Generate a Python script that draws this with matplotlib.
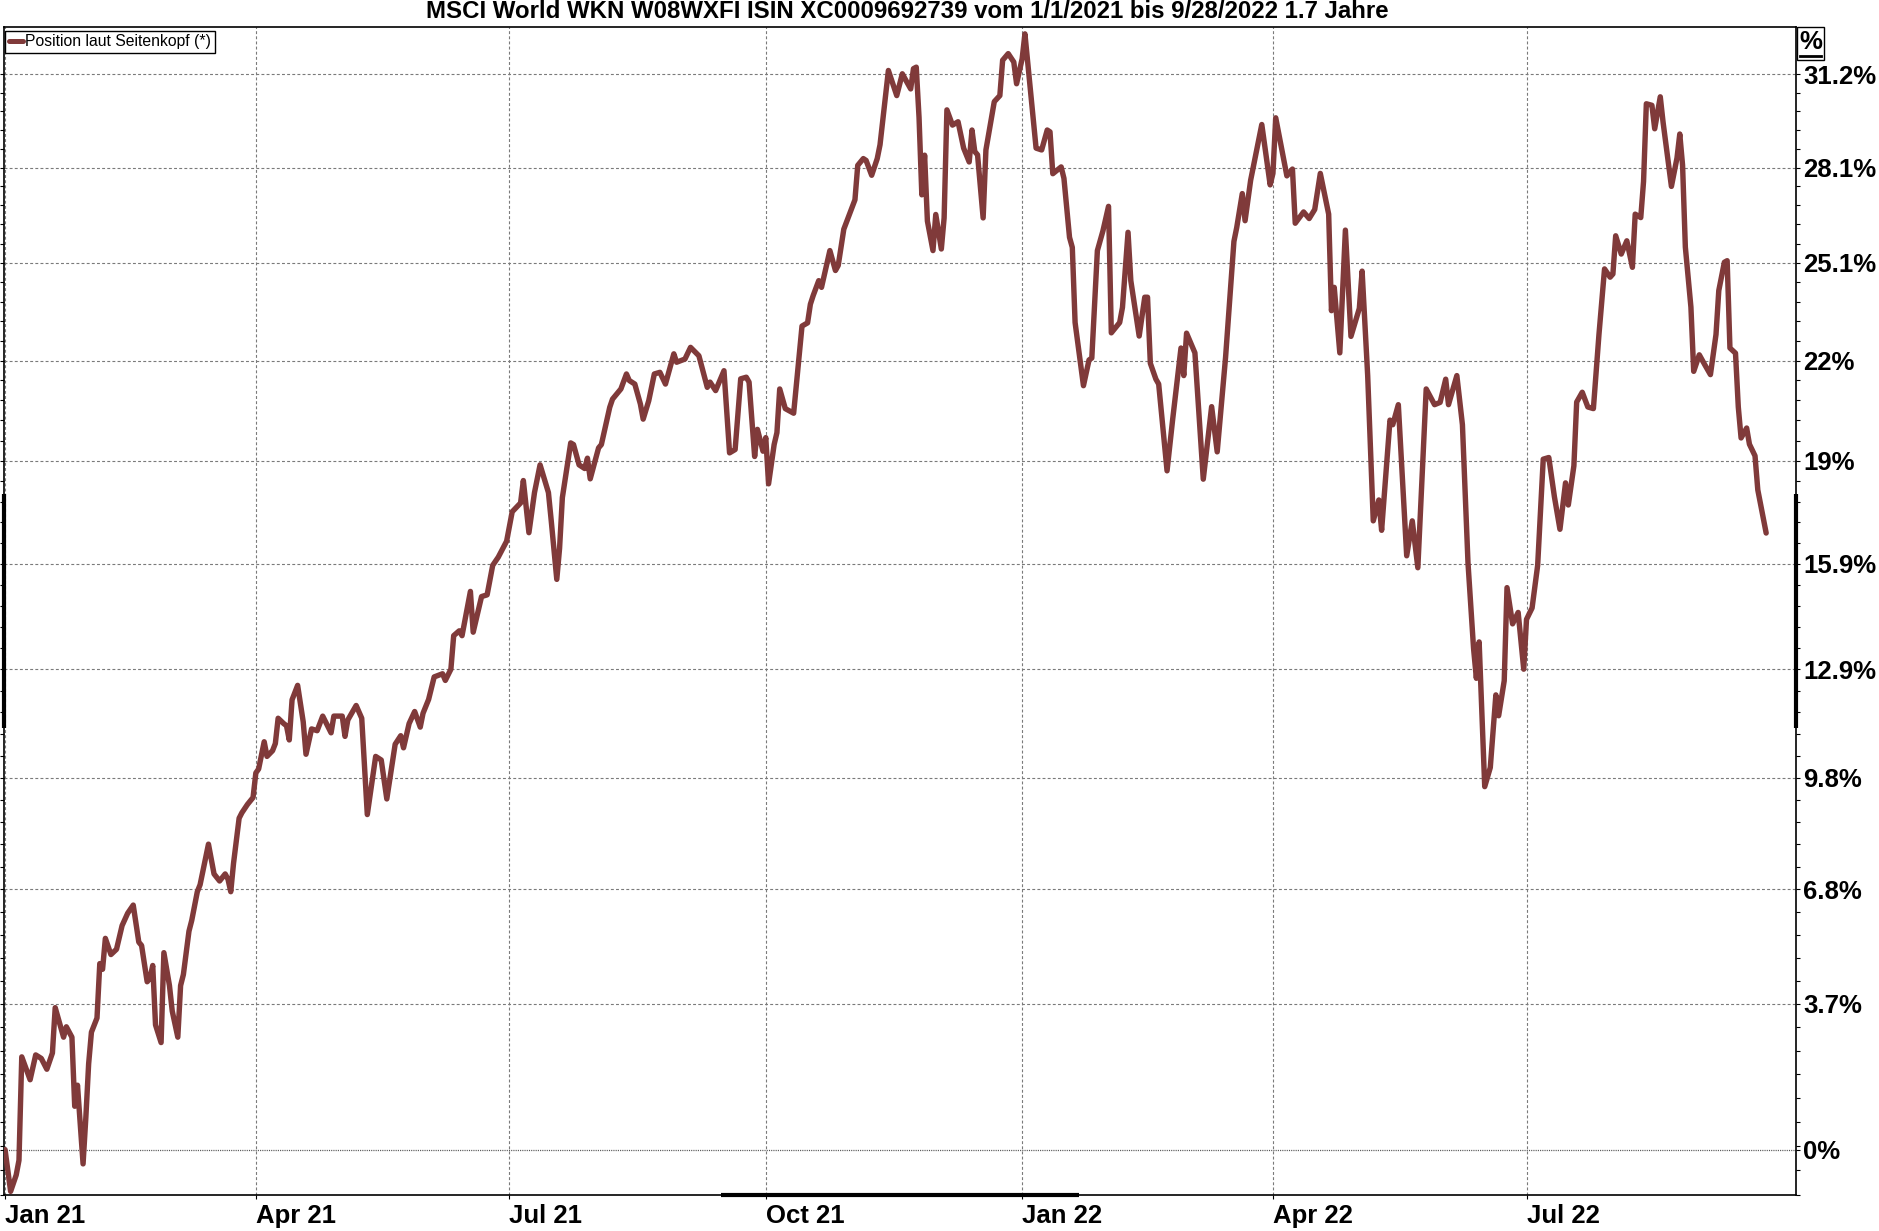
import numpy as np
import pandas as pd
import matplotlib
matplotlib.use("Agg")
import matplotlib.pyplot as plt
from matplotlib.ticker import FixedLocator, NullFormatter
from matplotlib.lines import Line2D
from matplotlib.patches import Rectangle
from matplotlib import font_manager

# ---------------- data ----------------
title = "MSCI World WKN W08WXFI ISIN XC0009692739 vom 1/1/2021 bis 9/28/2022 1.7 Jahre"
series_label = "Position laut Seitenkopf (*)"

dates = [
    "2021-01-01", "2021-01-03", "2021-01-05", "2021-01-06", "2021-01-07", "2021-01-10",
    "2021-01-12", "2021-01-14", "2021-01-16", "2021-01-18", "2021-01-19", "2021-01-22",
    "2021-01-23", "2021-01-25", "2021-01-26", "2021-01-27", "2021-01-29", "2021-01-30",
    "2021-01-31", "2021-02-01", "2021-02-03", "2021-02-04", "2021-02-05", "2021-02-06",
    "2021-02-08", "2021-02-10", "2021-02-12", "2021-02-14", "2021-02-16", "2021-02-18",
    "2021-02-19", "2021-02-21", "2021-02-22", "2021-02-23", "2021-02-24", "2021-02-26",
    "2021-02-27", "2021-03-01", "2021-03-02", "2021-03-04", "2021-03-05", "2021-03-06",
    "2021-03-08", "2021-03-09", "2021-03-11", "2021-03-12", "2021-03-15", "2021-03-17",
    "2021-03-19", "2021-03-21", "2021-03-22", "2021-03-23", "2021-03-24", "2021-03-26",
    "2021-03-27", "2021-03-29", "2021-03-31", "2021-04-01", "2021-04-02", "2021-04-04",
    "2021-04-05", "2021-04-07", "2021-04-08", "2021-04-09", "2021-04-11", "2021-04-12",
    "2021-04-13", "2021-04-14", "2021-04-16", "2021-04-18", "2021-04-19", "2021-04-21",
    "2021-04-23", "2021-04-25", "2021-04-28", "2021-04-29", "2021-05-02", "2021-05-03",
    "2021-05-04", "2021-05-07", "2021-05-09", "2021-05-11", "2021-05-14", "2021-05-16",
    "2021-05-18", "2021-05-21", "2021-05-23", "2021-05-24", "2021-05-26", "2021-05-28",
    "2021-05-30", "2021-05-31", "2021-06-02", "2021-06-04", "2021-06-07", "2021-06-08",
    "2021-06-10", "2021-06-11", "2021-06-13", "2021-06-14", "2021-06-17", "2021-06-18",
    "2021-06-21", "2021-06-23", "2021-06-25", "2021-06-27", "2021-06-29", "2021-06-30",
    "2021-07-02", "2021-07-05", "2021-07-06", "2021-07-08", "2021-07-10", "2021-07-12",
    "2021-07-15", "2021-07-16", "2021-07-18", "2021-07-19", "2021-07-20", "2021-07-23",
    "2021-07-24", "2021-07-26", "2021-07-28", "2021-07-29", "2021-07-30", "2021-08-02",
    "2021-08-03", "2021-08-06", "2021-08-07", "2021-08-10", "2021-08-12", "2021-08-13",
    "2021-08-15", "2021-08-17", "2021-08-18", "2021-08-20", "2021-08-22", "2021-08-24",
    "2021-08-26", "2021-08-29", "2021-08-30", "2021-09-02", "2021-09-04", "2021-09-07",
    "2021-09-10", "2021-09-11", "2021-09-13", "2021-09-16", "2021-09-18", "2021-09-20",
    "2021-09-22", "2021-09-24", "2021-09-25", "2021-09-27", "2021-09-28", "2021-09-30",
    "2021-10-01", "2021-10-02", "2021-10-04", "2021-10-05", "2021-10-06", "2021-10-08",
    "2021-10-11", "2021-10-13", "2021-10-14", "2021-10-16", "2021-10-17", "2021-10-18",
    "2021-10-20", "2021-10-21", "2021-10-24", "2021-10-26", "2021-10-27", "2021-10-29",
    "2021-10-31", "2021-11-02", "2021-11-03", "2021-11-05", "2021-11-06", "2021-11-08",
    "2021-11-10", "2021-11-11", "2021-11-14", "2021-11-17", "2021-11-19", "2021-11-20",
    "2021-11-22", "2021-11-23", "2021-11-24", "2021-11-25", "2021-11-26", "2021-11-27",
    "2021-11-28", "2021-11-30", "2021-12-01", "2021-12-03", "2021-12-04", "2021-12-05",
    "2021-12-07", "2021-12-09", "2021-12-11", "2021-12-13", "2021-12-14", "2021-12-15",
    "2021-12-16", "2021-12-18", "2021-12-19", "2021-12-22", "2021-12-24", "2021-12-25",
    "2021-12-27", "2021-12-29", "2021-12-30", "2022-01-01", "2022-01-02", "2022-01-04",
    "2022-01-06", "2022-01-08", "2022-01-10", "2022-01-11", "2022-01-12", "2022-01-15",
    "2022-01-16", "2022-01-18", "2022-01-19", "2022-01-20", "2022-01-23", "2022-01-25",
    "2022-01-26", "2022-01-28", "2022-01-30", "2022-02-01", "2022-02-02", "2022-02-05",
    "2022-02-06", "2022-02-08", "2022-02-09", "2022-02-12", "2022-02-14", "2022-02-15",
    "2022-02-16", "2022-02-18", "2022-02-19", "2022-02-22", "2022-02-24", "2022-02-27",
    "2022-02-28", "2022-03-01", "2022-03-04", "2022-03-07", "2022-03-10", "2022-03-12",
    "2022-03-15", "2022-03-18", "2022-03-19", "2022-03-21", "2022-03-22", "2022-03-24",
    "2022-03-28", "2022-03-31", "2022-04-01", "2022-04-02", "2022-04-06", "2022-04-08",
    "2022-04-09", "2022-04-12", "2022-04-14", "2022-04-16", "2022-04-18", "2022-04-19",
    "2022-04-21", "2022-04-22", "2022-04-23", "2022-04-25", "2022-04-27", "2022-04-29",
    "2022-05-02", "2022-05-03", "2022-05-05", "2022-05-07", "2022-05-09", "2022-05-10",
    "2022-05-13", "2022-05-14", "2022-05-16", "2022-05-19", "2022-05-21", "2022-05-23",
    "2022-05-26", "2022-05-29", "2022-05-31", "2022-06-02", "2022-06-03", "2022-06-06",
    "2022-06-08", "2022-06-10", "2022-06-12", "2022-06-13", "2022-06-14", "2022-06-16",
    "2022-06-18", "2022-06-20", "2022-06-21", "2022-06-23", "2022-06-24", "2022-06-26",
    "2022-06-28", "2022-06-30", "2022-07-01", "2022-07-03", "2022-07-05", "2022-07-07",
    "2022-07-09", "2022-07-11", "2022-07-13", "2022-07-15", "2022-07-16", "2022-07-18",
    "2022-07-19", "2022-07-21", "2022-07-23", "2022-07-25", "2022-07-27", "2022-07-29",
    "2022-07-31", "2022-08-01", "2022-08-02", "2022-08-04", "2022-08-06", "2022-08-08",
    "2022-08-09", "2022-08-11", "2022-08-12", "2022-08-13", "2022-08-15", "2022-08-16",
    "2022-08-18", "2022-08-19", "2022-08-21", "2022-08-22", "2022-08-24", "2022-08-25",
    "2022-08-26", "2022-08-27", "2022-08-29", "2022-08-30", "2022-09-01", "2022-09-03",
    "2022-09-05", "2022-09-07", "2022-09-08", "2022-09-10", "2022-09-11", "2022-09-12",
    "2022-09-14", "2022-09-15", "2022-09-16", "2022-09-18", "2022-09-19", "2022-09-21",
    "2022-09-22", "2022-09-25",
]

values = [
    0.00, -1.05, -0.64, -0.27, 2.37, 1.78,
    2.42, 2.33, 2.05, 2.47, 3.65, 2.88,
    3.15, 2.88, 1.10, 1.64, -0.36, 0.82,
    2.19, 3.01, 3.38, 4.81, 4.66, 5.48,
    5.05, 5.19, 5.82, 6.15, 6.37, 5.38,
    5.29, 4.33, 4.42, 4.76, 3.20, 2.74,
    5.10, 4.23, 3.56, 2.88, 4.23, 4.52,
    5.67, 5.96, 6.73, 6.92, 8.02, 7.21,
    7.02, 7.21, 7.07, 6.73, 7.50, 8.73,
    8.88, 9.11, 9.30, 9.98, 10.09, 10.85,
    10.44, 10.60, 10.80, 11.51, 11.36, 11.30,
    10.90, 12.03, 12.44, 11.41, 10.50, 11.21,
    11.16, 11.57, 11.10, 11.57, 11.57, 11.00,
    11.46, 11.87, 11.51, 8.83, 10.44, 10.34,
    9.26, 10.78, 11.02, 10.68, 11.36, 11.70,
    11.26, 11.65, 12.04, 12.68, 12.77, 12.58,
    12.90, 13.86, 14.00, 13.86, 15.14, 13.96,
    14.99, 15.04, 15.90, 16.14, 16.45, 16.61,
    17.48, 17.74, 18.41, 16.86, 18.05, 18.88,
    18.05, 17.22, 15.49, 16.40, 17.90, 19.54,
    19.49, 18.88, 18.77, 19.08, 18.46, 19.39,
    19.49, 20.62, 20.87, 21.18, 21.64, 21.44,
    21.33, 20.72, 20.26, 20.82, 21.64, 21.69,
    21.33, 22.26, 22.00, 22.10, 22.46, 22.20,
    21.23, 21.39, 21.13, 21.74, 19.24, 19.34,
    21.49, 21.54, 21.39, 19.13, 19.95, 19.29,
    19.70, 18.31, 19.49, 19.85, 21.18, 20.58,
    20.44, 22.23, 23.12, 23.22, 23.80, 24.07,
    24.54, 24.33, 25.49, 24.86, 25.02, 26.17,
    26.64, 27.11, 28.22, 28.44, 28.38, 27.90,
    28.44, 28.89, 31.33, 30.50, 31.22, 31.05,
    30.72, 31.39, 31.44, 29.78, 27.27, 28.55,
    26.43, 25.49, 26.64, 25.54, 26.53, 30.03,
    29.53, 29.64, 28.78, 28.33, 29.37, 28.67,
    28.56, 26.53, 28.72, 30.30, 30.50, 31.67,
    31.89, 31.61, 30.89, 31.72, 32.55, 30.67,
    28.78, 28.72, 29.37, 29.31, 27.95, 28.17,
    27.80, 25.91, 25.59, 23.23, 21.28, 22.07,
    22.13, 25.49, 26.12, 26.90, 22.91, 23.23,
    23.70, 26.07, 24.54, 22.81, 24.02, 24.02,
    21.97, 21.48, 21.33, 18.70, 20.24, 22.44,
    21.59, 22.90, 22.29, 18.45, 20.64, 19.27,
    22.15, 25.78, 26.22, 27.31, 26.44, 27.74,
    29.55, 27.59, 27.96, 29.77, 27.88, 28.10,
    26.36, 26.72, 26.51, 26.80, 27.96, 27.52,
    26.65, 23.60, 24.33, 22.29, 26.14, 22.80,
    23.67, 24.84, 21.59, 17.21, 17.83, 16.93,
    20.23, 20.09, 20.70, 16.18, 17.21, 15.83,
    21.18, 20.70, 20.77, 21.48, 20.70, 21.59,
    20.09, 15.97, 13.49, 12.64, 13.68, 9.60,
    10.13, 12.17, 11.58, 12.57, 15.25, 14.20,
    14.53, 12.90, 14.33, 14.66, 15.90, 19.05,
    19.10, 17.93, 16.96, 18.34, 17.68, 18.85,
    20.78, 21.08, 20.63, 20.58, 22.86, 24.91,
    24.65, 24.75, 25.96, 25.38, 25.80, 24.96,
    26.65, 26.54, 27.70, 30.23, 30.18, 29.41,
    30.46, 29.63, 28.23, 27.54, 28.46, 29.24,
    28.23, 25.60, 23.71, 21.72, 22.23, 21.92,
    21.62, 22.86, 24.23, 25.12, 25.17, 22.44,
    22.28, 20.63, 19.69, 19.99, 19.50, 19.15,
    18.13, 16.85,
]

ytick_values = [0.0, 3.75, 6.8, 9.85, 12.9, 15.95, 19.0, 22.05, 25.1, 28.15, 31.2]
ytick_labels = ["0%", "3.7%", "6.8%", "9.8%", "12.9%", "15.9%", "19%", "22%", "25.1%", "28.1%", "31.2%"]
xtick_dates = ["2021-01-01", "2021-04-01", "2021-07-01", "2021-10-01",
               "2022-01-01", "2022-04-01", "2022-07-01"]
xtick_labels = ["Jan 21", "Apr 21", "Jul 21", "Oct 21", "Jan 22", "Apr 22", "Jul 22"]

# ---------------- style ----------------
LINE_COLOR = "#803a3a"
GRID_COLOR = "#7a7a7a"
FONT = "Liberation Sans"
plt.rcParams["font.family"] = [FONT, "DejaVu Sans"]
plt.rcParams["lines.scale_dashes"] = False

installed = {f.name for f in font_manager.fontManager.ttflist}
if "Liberation Sans Narrow" in installed:
    legend_prop = {"family": "Liberation Sans Narrow", "size": 13.4}
else:
    legend_prop = {"family": FONT, "size": 11.3}

W, H = 1879, 1231
fig = plt.figure(figsize=(W / 100, H / 100), dpi=100)
fig.patch.set_facecolor("white")

ax_left, ax_right, ax_top, ax_bottom = 4, 1796, 27, 1195
ax = fig.add_axes([ax_left / W, (H - ax_bottom) / H,
                   (ax_right - ax_left) / W, (ax_bottom - ax_top) / H])

fwd = lambda v: np.log1p(np.asarray(v, dtype=float) / 100.0)
inv = lambda y: np.expm1(np.asarray(y, dtype=float)) * 100.0
ax.set_yscale("function", functions=(fwd, inv))

x = pd.to_datetime(dates)
ax.plot(x, values, color=LINE_COLOR, lw=3.9, solid_joinstyle="round",
        solid_capstyle="round", zorder=5, label=series_label)

ax.set_xlim(pd.Timestamp("2020-12-31 15:00"), pd.Timestamp("2022-10-05 17:00"))
ax.set_ylim(-1.14, 32.78)

# grid lines
xt = pd.to_datetime(xtick_dates)
for d in xt:
    ax.axvline(d, color=GRID_COLOR, lw=0.8, ls=(0, (2.1, 1.6)), zorder=1)
for v in ytick_values:
    if v == 0:
        ax.axhline(v, color="#555555", lw=0.9, ls=(0, (0.8, 0.8)), zorder=1)
    else:
        ax.axhline(v, color=GRID_COLOR, lw=0.8, ls=(0, (2.1, 1.6)), zorder=1)

# y ticks (right side)
ax.yaxis.tick_right()
ax.set_yticks(ytick_values)
ax.set_yticklabels(ytick_labels, fontsize=18.5, fontweight="bold", family=FONT)
step = (ytick_values[-1] - ytick_values[-2]) / 5.0
minor = [ytick_values[-1] - k * step for k in range(0, 60)]
minor = [m for m in minor if m > -1.14 and all(abs(m - t) > 1e-6 for t in ytick_values)]
ax.yaxis.set_minor_locator(FixedLocator(minor))
ax.yaxis.set_minor_formatter(NullFormatter())
ax.tick_params(axis="y", which="both", left=True, right=True, labelleft=False,
               labelright=True, direction="out", length=3.2, width=0.8, pad=2.2,
               colors="black")

# x ticks
ax.set_xticks(xt)
ax.set_xticklabels(xtick_labels, ha="left", fontsize=18.5, fontweight="bold", family=FONT)
ax.tick_params(axis="x", which="major", direction="out", length=3.2, width=0.8, pad=3.0)
ax.tick_params(axis="x", which="minor", bottom=False)

for s in ax.spines.values():
    s.set_linewidth(1.2)
    s.set_color("black")

# scroll-bar like thick segments on the frame
for seg in (([0.4, 0.6], [0, 0]), ([0, 0], [0.4, 0.6]), ([1, 1], [0.4, 0.6])):
    ax.plot(seg[0], seg[1], transform=ax.transAxes, color="black", lw=3.0,
            solid_capstyle="butt", clip_on=False, zorder=6)

# legend
handle = Line2D([0], [0], color=LINE_COLOR, lw=3.6, solid_capstyle="round")
leg = ax.legend([handle], [series_label], loc="upper left", bbox_to_anchor=(0.0006, 0.997),
                borderaxespad=0.0, frameon=True, fancybox=False, edgecolor="black",
                framealpha=1.0, borderpad=0.24, handlelength=0.9, handletextpad=0.15,
                prop=legend_prop)
leg.get_frame().set_linewidth(1.0)
leg.set_zorder(10)

# title
fig.text(907 / W, 1 - 12 / H, title, ha="center", va="center", fontsize=17.3,
         fontweight="bold", family=FONT)

# '%' unit box at top right
fig.add_artist(Rectangle((1797 / W, 1 - 60 / H), 27 / W, 33 / H, transform=fig.transFigure,
                         facecolor="white", edgecolor="black", lw=1.0))
fig.text(1810.5 / W, 1 - 42 / H, "%", ha="center", va="center", fontsize=18.5,
         fontweight="bold", family=FONT)
fig.add_artist(Line2D([1800 / W, 1821 / W], [1 - 56 / H, 1 - 56 / H],
                      transform=fig.transFigure, color="black", lw=2.0))

fig.savefig("out.png", dpi=100)
